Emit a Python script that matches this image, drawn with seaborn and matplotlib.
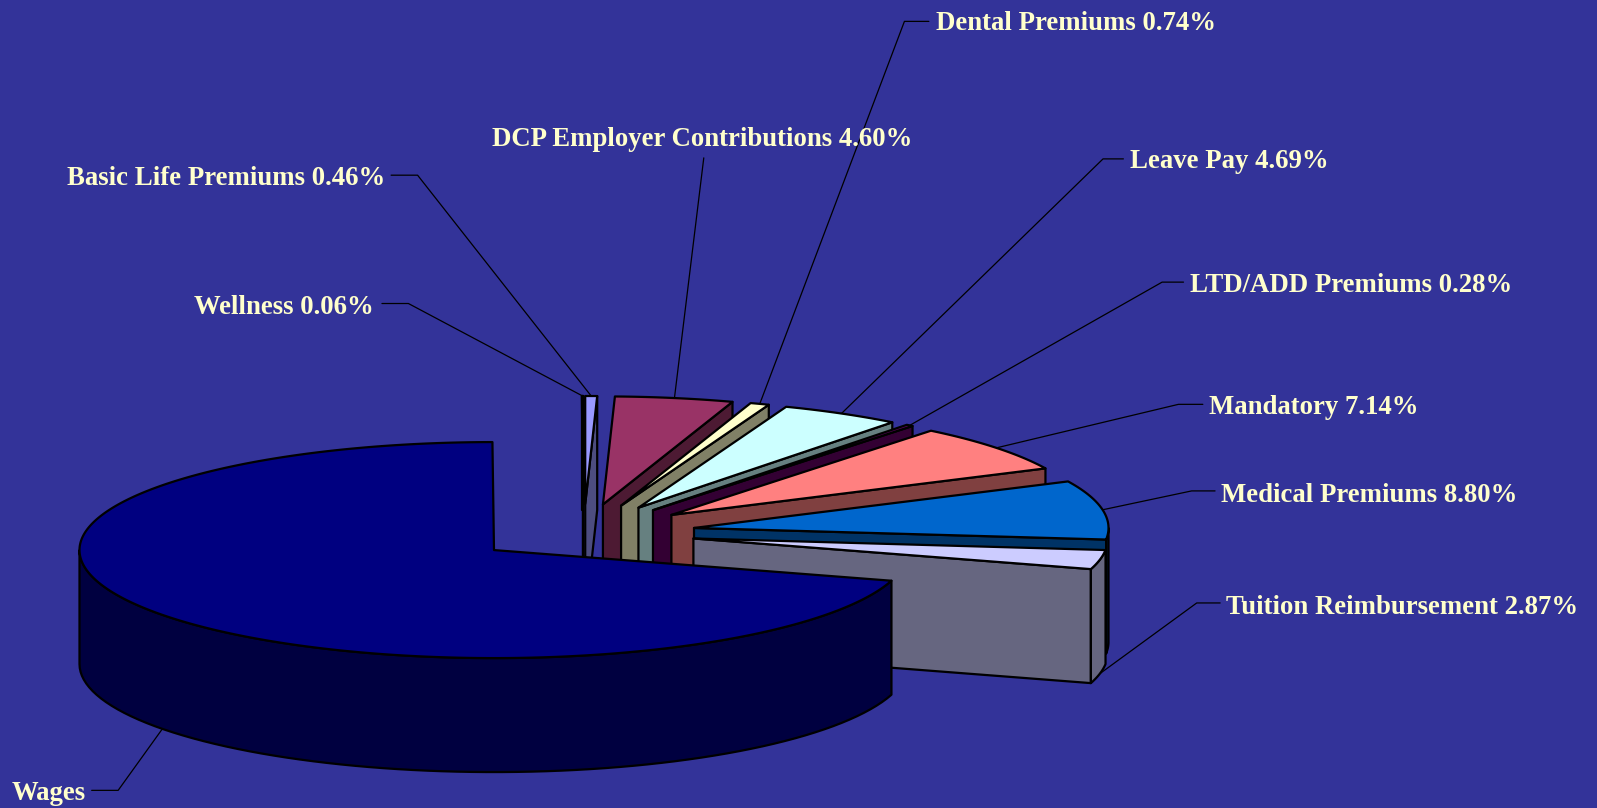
import numpy as np
import pandas as pd
import seaborn as sns
import matplotlib
matplotlib.use("Agg")
import matplotlib.pyplot as plt

# --- data (clockwise from 12 o'clock) ---
categories = ["Basic Life Premiums", "DCP Employer Contributions", "Dental Premiums", "Leave Pay",
              "LTD/ADD Premiums", "Mandatory", "Medical Premiums", "Tuition Reimbursement",
              "Wages", "Wellness"]
shares = [0.46, 4.60, 0.74, 4.69, 0.28, 7.14, 8.80, 2.87, 70.36, 0.06]
tick_labels = ["Basic Life Premiums 0.46%", "DCP Employer Contributions 4.60%", "Dental Premiums 0.74%",
               "Leave Pay 4.69%", "LTD/ADD Premiums 0.28%", "Mandatory 7.14%", "Medical Premiums 8.80%",
               "Tuition Reimbursement 2.87%", "Wages", "Wellness 0.06%"]
top_colors = ["#9999FF", "#993366", "#FFFFCC", "#CCFFFF", "#660066", "#FF8080", "#0066CC", "#CCCCFF",
              "#000080", "#FF00FF"]

# --- layout (pixels in the output image) ---
W, H = 1597, 808
S = 1597 / 1568
CX, CY = 583.6, 532.8
RX, RY, DEPTH = 414.5, 108.0, 114.0
EX, EY = 112.0, 28.8
BG, INK, TXT = "#333399", "#000000", "#FFFFCC"
# text x, text y, ha, elbow x, elbow y, stub x (shrunk-scale pixels)
label_layout = {
    "Basic Life Premiums": (378, 175, "right", 410, 172, 384),
    "DCP Employer Contributions": (689, 137, "center", 691, 155, 691),
    "Dental Premiums": (919, 23, "left", 888, 21, 912),
    "Leave Pay": (1109, 159, "left", 1083, 156, 1103),
    "LTD/ADD Premiums": (1168, 280, "left", 1141, 277, 1162),
    "Mandatory": (1187, 400, "left", 1157, 397, 1181),
    "Medical Premiums": (1199, 486.5, "left", 1170, 482, 1193),
    "Tuition Reimbursement": (1204, 596, "left", 1175, 592, 1198),
    "Wages": (11, 779, "left", 116, 776, 90),
    "Wellness": (367, 302, "right", 401, 298, 375),
}

sns.set_theme(style="white")
plt.rcParams["font.family"] = ["Liberation Serif", "DejaVu Serif"]
palette = sns.color_palette(top_colors)

df = pd.DataFrame({"category": categories, "share": shares, "label": tick_labels})
sweep = df["share"] / df["share"].sum() * 360
df["hi"] = 90 - sweep.cumsum().shift(fill_value=0)
df["lo"] = df["hi"] - sweep
df["top"] = palette
df["side"] = [tuple(c * 0.5 for c in col) for col in palette]

fig = plt.figure(figsize=(W / 100, H / 100), dpi=100, facecolor=BG)
ax = fig.add_axes([0, 0, 1, 1])
ax.set_xlim(0, W)
ax.set_ylim(H, 0)
ax.axis("off")
LW = 1.6


def rim(ax0, ay0, deg, dz=0.0):
    t = np.radians(deg)
    return ax0 + RX * np.cos(t), ay0 - RY * np.sin(t) + dz


def apex(row):
    m = np.radians((row.hi + row.lo) / 2)
    return CX + EX * np.cos(m), CY - EY * np.sin(m)


def poly(xs, ys, color, z):
    ax.fill(xs, ys, facecolor=color, edgecolor=INK, linewidth=LW, joinstyle="round", zorder=z)


anchors = {}
order = [df.index[-1]] + list(df.index[:-2]) + [df.index[-2]]  # back to front
for z, i in enumerate(order):
    r = df.loc[i]
    ax0, ay0 = apex(r)
    base = 3 * z + 2
    # cut face on the clockwise edge
    if np.cos(np.radians(r.lo)) > -1e-6 and r.category != "Wages":
        x1, y1 = rim(ax0, ay0, r.lo)
        poly([ax0, x1, x1, ax0], [ay0, y1, y1 + DEPTH, ay0 + DEPTH], r.side, base)
    # outer wall where the rim faces the viewer (below the horizontal axis)
    if r.category == "Wages":
        lo_w, hi_w = -180, r.hi
    else:
        lo_w, hi_w = r.lo, min(r.hi, 0)
    if hi_w > lo_w:
        th = np.linspace(lo_w, hi_w, 80)
        xs, ys = rim(ax0, ay0, th)
        poly(np.r_[xs, xs[::-1]], np.r_[ys, (ys + DEPTH)[::-1]], r.side, base + 1)
    # top face
    th = np.linspace(r.lo, r.hi, max(int(r.hi - r.lo) * 2, 4))
    xs, ys = rim(ax0, ay0, th)
    poly(np.r_[ax0, xs], np.r_[ay0, ys], r.top, base + 2)
    # leader anchor
    mid = (r.hi + r.lo) / 2
    front = np.sin(np.radians(mid)) < 0
    anchors[r.category] = rim(ax0, ay0, mid, DEPTH if front else 0.0)

for r in df.itertuples():
    tx, ty, ha, ex, ey, sx = label_layout[r.category]
    ax0, ay0 = anchors[r.category]
    ax.plot([sx * S, ex * S, ax0], [ey * S, ey * S, ay0], color=INK, lw=0.9,
            zorder=60 if r.category in ("Tuition Reimbursement", "Wages") else 1)
    ax.text(tx * S, ty * S, r.label, color=TXT, fontsize=19.3, fontweight="bold", ha=ha, va="center", zorder=70)

fig.savefig("out.png", dpi=100, facecolor=BG)
